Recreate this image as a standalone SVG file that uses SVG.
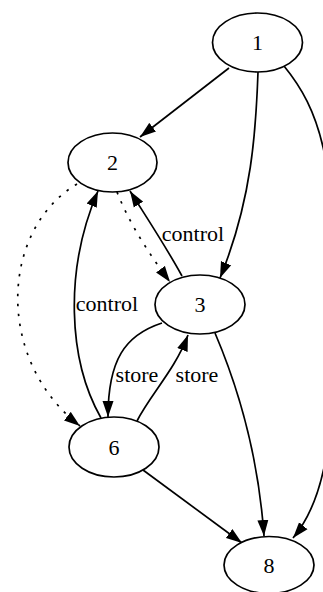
<svg xmlns="http://www.w3.org/2000/svg" width="323" height="592" viewBox="0 0 323 592">
<defs>
<style>
.node ellipse{fill:#fff;stroke:#000;stroke-width:1.7}
.node text{font-family:"Liberation Serif","Times New Roman",serif;font-size:22px;text-anchor:middle;fill:#000}
.edge{fill:none;stroke:#000;stroke-width:1.7;marker-end:url(#ah)}
.dot{stroke-dasharray:2.5,7.5}
.lbl{font-family:"Liberation Serif","Times New Roman",serif;font-size:22px;text-anchor:middle;fill:#000}
</style>
<marker id="ah" markerUnits="userSpaceOnUse" markerWidth="16" markerHeight="12" refX="16" refY="6" orient="auto" viewBox="0 0 16 12">
<path d="M0,0.5 L16,6 L0,11.5 z" fill="#000"/>
</marker>
</defs>
<rect width="323" height="592" fill="#fff"/>
<g id="edges">
<path class="edge" d="M229,68 L140,137"/>
<path class="edge" d="M258,72 C256,130 252,200 220,278"/>
<path class="edge" d="M284,66 C320,110 335,160 335,300 C335,440 325,500 293,538"/>
<path class="edge dot" d="M117,192 C130,225 150,255 170,282"/>
<path class="edge" d="M182,276 C165,245 145,215 130,191"/>
<path class="edge" d="M101,418 C68,360 64,270 98,191"/>
<path class="edge dot" d="M77,184 C0,230 -5,360 80,426"/>
<path class="edge" d="M162,323 C125,335 108,360 108,417"/>
<path class="edge" d="M137,421 C150,395 175,370 188,335"/>
<path class="edge" d="M215,333 C235,380 258,450 264,536"/>
<path class="edge" d="M143,470 L242,543"/>
<text class="lbl" x="193" y="241">control</text>
<text class="lbl" x="107" y="311">control</text>
<text class="lbl" x="137" y="382">store</text>
<text class="lbl" x="197" y="382">store</text>
</g>
<g id="n1" class="node"><ellipse cx="257.5" cy="42.5" rx="45" ry="29.5"/><text x="257.5" y="50">1</text></g>
<g id="n2" class="node"><ellipse cx="112.5" cy="162.5" rx="44.5" ry="29.5"/><text x="112.5" y="170">2</text></g>
<g id="n3" class="node"><ellipse cx="200" cy="304.5" rx="45" ry="29.5"/><text x="200" y="312">3</text></g>
<g id="n6" class="node"><ellipse cx="114" cy="447" rx="45" ry="30"/><text x="114" y="454.5">6</text></g>
<g id="n8" class="node"><ellipse cx="269" cy="565" rx="45" ry="28.5"/><text x="269" y="572.5">8</text></g>
</svg>
